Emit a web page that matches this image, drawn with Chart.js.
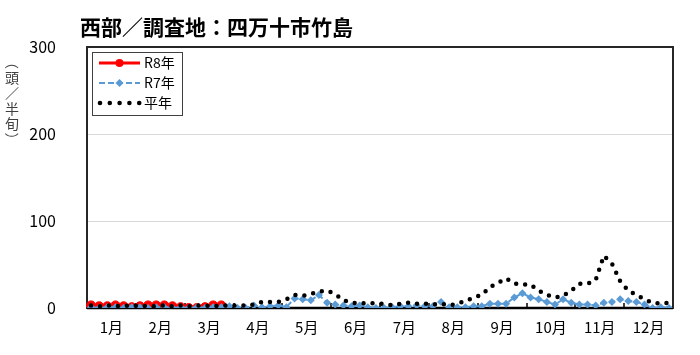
<!DOCTYPE html>
<html>
<head>
<meta charset="utf-8">
<script src="https://cdn.jsdelivr.net/npm/chart.js@4.4.1/dist/chart.umd.min.js"></script>
<style>
  html, body { margin: 0; padding: 0; background: #fff; }
</style>
</head>
<body>
<canvas id="chart" width="700" height="355"></canvas>
<script>
var titleText = "西部／調査地：四万十市竹島";
var yTitle = "（頭／半旬）";
var months = ["1月", "2月", "3月", "4月", "5月", "6月", "7月", "8月", "9月", "10月", "11月", "12月"];
var yTicks = [0, 100, 200, 300];

// 半旬 values, 6 per month
var r8 = [3, 2, 2, 3, 2, 1,  2, 3, 3, 3, 2, 1,  0, 0, 1, 3, 3];
var r7 = [1, 0, 1, 1, 0, 1,  1, 0, 1, 1, 0, 1,  0, 1, 0, 1, 1, 2,
          0, 0, 3, 1, 2, 3,  1, 11, 10, 9, 15, 6,  4, 3, 2, 3, 1, 0,
          0, 1, 2, 2, 3, 2,  2, 7, 1, 1, 1, 2,  2, 5, 5, 5, 12, 17,
          12, 10, 7, 4, 10, 6,  4, 4, 3, 6, 7, 10,  8, 7, 4, 0, 1, 0];
var avg = [3, 2, 3, 2, 3, 2,  3, 2, 2, 3, 2, 3,  2, 3, 3, 2, 3, 3,
           3, 3, 4, 7, 7, 7,  10, 15, 14, 16, 19, 20,  16, 9, 6, 5, 6, 5,
           5, 3, 5, 6, 5, 5,  4, 5, 3, 5, 8, 12,  15, 24, 29, 34, 28, 27,
           27, 20, 15, 12, 14, 20,  28, 28, 32, 60, 51, 31,  20, 15, 10, 6, 5, 6];

var labels = [];
months.forEach(function(m) {
  for (var k = 1; k <= 6; k++) labels.push(m + k);
});

var jp = "'Noto Sans CJK JP', 'Noto Sans', sans-serif";

var decor = {
  id: "decor",
  beforeDatasetsDraw: function(chart) {
    var ctx = chart.ctx, a = chart.chartArea, xm = chart.scales.xm;
    ctx.save();
    ctx.strokeStyle = "#000";
    ctx.lineWidth = 1.5;
    for (var k = 1; k < months.length; k++) {
      var x = Math.round((xm.getPixelForValue(k - 1) + xm.getPixelForValue(k)) / 2);
      ctx.beginPath();
      ctx.moveTo(x, a.bottom);
      ctx.lineTo(x, a.bottom - 5);
      ctx.stroke();
    }
    ctx.lineWidth = 2;
    ctx.strokeStyle = "#262626";
    ctx.strokeRect(a.left, a.top, a.right - a.left, a.bottom - a.top);
    ctx.lineWidth = 2.5;
    ctx.strokeStyle = "#000";
    ctx.beginPath();
    ctx.moveTo(a.left, a.bottom);
    ctx.lineTo(a.right, a.bottom);
    ctx.stroke();
    ctx.restore();
  },
  afterDraw: function(chart) {
    var ctx = chart.ctx, a = chart.chartArea, ds = chart.data.datasets;
    ctx.save();
    // title
    ctx.fillStyle = "#000";
    ctx.font = "bold 21px " + jp;
    ctx.textAlign = "left";
    ctx.textBaseline = "middle";
    ctx.fillText(titleText, 80, 27);

    // vertical y title
    ctx.font = "14px " + jp;
    ctx.fillStyle = "#404040";
    ctx.textAlign = "center";
    var chars = Array.from(yTitle);
    chars.forEach(function(c, i) {
      var y = 62 + i * 15.5;
      if (c === "（" || c === "）") {
        ctx.save();
        ctx.translate(12, y);
        ctx.rotate(Math.PI / 2);
        ctx.fillText(c, 0, 0);
        ctx.restore();
      } else {
        ctx.fillText(c, 12, y);
      }
    });

    // legend box
    var lx = a.left + 5, ly = a.top + 5;
    ctx.fillStyle = "#fff";
    ctx.fillRect(lx, ly, 90, 63);
    ctx.strokeStyle = "#404040";
    ctx.lineWidth = 1;
    ctx.strokeRect(lx + 0.5, ly + 0.5, 90, 63);
    var x0 = lx + 7, x1 = lx + 48, xc = (x0 + x1) / 2;
    var order = [2, 1, 0];
    order.forEach(function(di, row) {
      var d = ds[di];
      var y = ly + 11 + row * 20;
      ctx.save();
      if (d.label === "平年") {
        ctx.fillStyle = d.borderColor;
        for (var k = 0; k < 5; k++) {
          ctx.beginPath();
          ctx.arc(x0 + 1 + k * 9.8, y, 2.3, 0, Math.PI * 2);
          ctx.fill();
        }
      } else {
        ctx.strokeStyle = d.borderColor;
        ctx.lineWidth = d.borderWidth;
        ctx.setLineDash(d.borderDash || []);
        ctx.beginPath();
        ctx.moveTo(x0, y);
        ctx.lineTo(x1, y);
        ctx.stroke();
        ctx.setLineDash([]);
        ctx.fillStyle = d.pointBackgroundColor;
        ctx.beginPath();
        if (d.pointStyle === "rectRot") {
          ctx.moveTo(xc, y - 4); ctx.lineTo(xc + 4, y); ctx.lineTo(xc, y + 4); ctx.lineTo(xc - 4, y);
          ctx.closePath();
        } else {
          ctx.arc(xc, y, 4, 0, Math.PI * 2);
        }
        ctx.fill();
      }
      ctx.restore();
      ctx.fillStyle = "#000";
      ctx.font = "14px " + jp;
      ctx.textAlign = "left";
      ctx.textBaseline = "middle";
      ctx.fillText(d.label, lx + 52, y);
    });
    ctx.restore();
  }
};

new Chart(document.getElementById("chart"), {
  type: "line",
  data: {
    labels: labels,
    datasets: [
      {
        label: "平年",
        data: avg,
        borderColor: "#000",
        borderWidth: 4.5,
        borderDash: [0, 9],
        borderCapStyle: "round",
        pointRadius: 0,
        fill: false,
        tension: 0
      },
      {
        label: "R7年",
        data: r7,
        borderColor: "#5B9BD5",
        borderWidth: 2,
        borderDash: [6, 3],
        pointStyle: "rectRot",
        pointRadius: 4,
        pointBorderWidth: 0,
        pointBackgroundColor: "#5B9BD5",
        pointBorderColor: "#5B9BD5",
        fill: false,
        tension: 0
      },
      {
        label: "R8年",
        data: r8,
        borderColor: "#FF0000",
        borderWidth: 3,
        pointStyle: "circle",
        pointRadius: 4.5,
        pointBorderWidth: 1,
        pointBackgroundColor: "#FF0000",
        pointBorderColor: "#FF0000",
        fill: false,
        tension: 0
      }
    ]
  },
  options: {
    responsive: false,
    animation: false,
    devicePixelRatio: 1,
    layout: { padding: { left: 27, right: 27, top: 47, bottom: 9 } },
    plugins: {
      legend: { display: false },
      title: { display: false },
      tooltip: { enabled: false }
    },
    scales: {
      x: {
        type: "category",
        display: false,
        offset: true
      },
      xm: {
        type: "category",
        position: "bottom",
        labels: months,
        offset: true,
        grid: { display: false, drawTicks: false },
        border: { display: false },
        ticks: {
          color: "#000",
          font: { family: jp, size: 15 },
          padding: 10,
          maxRotation: 0,
          autoSkip: false
        }
      },
      y: {
        min: 0,
        max: 300,
        afterBuildTicks: function(s) { s.ticks = yTicks.map(function(v) { return { value: v }; }); },
        afterFit: function(s) { s.width = 60; },
        grid: { color: "#d9d9d9", lineWidth: 1, drawTicks: false },
        border: { display: false },
        ticks: {
          color: "#000",
          font: { family: jp, size: 16 },
          padding: 31
        }
      }
    }
  },
  plugins: [decor]
});
</script>
</body>
</html>
